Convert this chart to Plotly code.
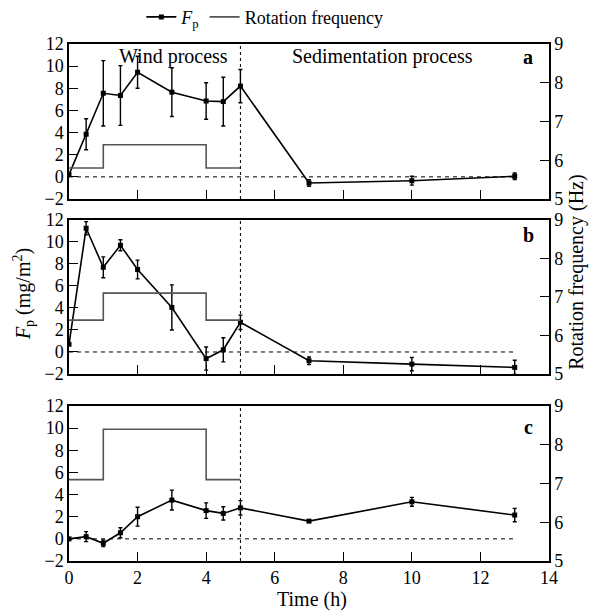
import plotly.graph_objects as go
from plotly.subplots import make_subplots

# ---------------- data ----------------
time_h = [0, 0.5, 1, 1.5, 2, 3, 4, 4.5, 5, 7, 10, 13]

fp_a = [0.2, 3.85, 7.55, 7.35, 9.45, 7.65, 6.85, 6.8, 8.2, -0.55, -0.35, 0.05]
err_a = [0, 1.4, 2.95, 2.7, 1.45, 2.2, 1.65, 2.2, 1.5, 0.3, 0.4, 0.3]

fp_b = [0.7, 11.25, 7.7, 9.7, 7.5, 4.05, -0.6, 0.2, 2.7, -0.8, -1.1, -1.4]
err_b = [0, 0.6, 0.95, 0.5, 0.85, 2.05, 1.05, 1.1, 0.65, 0.35, 0.6, 0.65]

fp_c = [0.0, 0.2, -0.4, 0.55, 2.0, 3.5, 2.55, 2.3, 2.8, 1.6, 3.35, 2.15]
err_c = [0, 0.45, 0.3, 0.45, 0.85, 0.9, 0.7, 0.6, 0.65, 0.1, 0.4, 0.6]

freq_time = [0, 1, 4, 5]
rot_a = [5.8, 6.4, 5.8, 5.8]
rot_b = [6.4, 7.1, 6.4, 6.4]
rot_c = [7.1, 8.4, 7.1, 7.1]

zero_line_x = [0, 13]
zero_line_y = [0, 0]
wind_end = 5

panel_labels = ["a", "b", "c"]
x_ticks = [0, 2, 4, 6, 8, 10, 12, 14]
y_ticks = [-2, 0, 2, 4, 6, 8, 10, 12]
y2_ticks = [5, 6, 7, 8, 9]

FONT = "Liberation Serif"
TICKFONT = dict(family=FONT, size=18, color="black")
TEXTFONT = dict(family=FONT, size=20, color="black")

fig = make_subplots(rows=3, cols=1, specs=[[{"secondary_y": True}]] * 3)

panels = [(fp_a, err_a, rot_a), (fp_b, err_b, rot_b), (fp_c, err_c, rot_c)]
for i, (fp, err, rot) in enumerate(panels):
    row = i + 1
    first = i == 0
    fig.add_trace(go.Scatter(x=freq_time, y=rot, mode="lines", line_shape="hv",
                             line=dict(color="#555555", width=1.6),
                             name="Rotation frequency", showlegend=False),
                  row=row, col=1, secondary_y=True)
    fig.add_trace(go.Scatter(x=zero_line_x, y=zero_line_y, mode="lines",
                             line=dict(color="black", width=1, dash="4px,4px"),
                             showlegend=False, hoverinfo="skip"),
                  row=row, col=1, secondary_y=False)
    fig.add_trace(go.Scatter(x=time_h, y=fp, mode="lines+markers",
                             line=dict(color="black", width=1.6),
                             marker=dict(symbol="square", size=5, color="black"),
                             error_y=dict(type="data", array=err, visible=True,
                                          color="black", thickness=1.4, width=2),
                             name="<i>F</i><sub>p</sub>", showlegend=first),
                  row=row, col=1, secondary_y=False)

fig.add_trace(go.Scatter(x=[None], y=[None], mode="lines",
                         line=dict(color="#555555", width=1.6),
                         name="Rotation frequency", showlegend=True),
              row=1, col=1, secondary_y=True)

domains = [[0.7002, 1.0], [0.3617, 0.6596], [0.0, 0.2998]]
for i in range(3):
    row = i + 1
    fig.update_xaxes(range=[0, 14], tickvals=x_ticks, ticks="inside", ticklen=9,
                     tickwidth=1.2, tickcolor="black", domain=[0, 1], automargin=False,
                     showline=True, linecolor="black", linewidth=1.5, mirror=True,
                     showgrid=False, zeroline=False, showticklabels=(row == 3),
                     tickfont=TICKFONT, row=row, col=1)
    fig.update_yaxes(range=[-2, 12], tickvals=y_ticks, ticks="inside", ticklen=9,
                     tickwidth=1.2, tickcolor="black", automargin=False,
                     showline=True, linecolor="black", linewidth=1.5,
                     showgrid=False, zeroline=False, domain=domains[i],
                     tickfont=TICKFONT, row=row, col=1, secondary_y=False)
    fig.update_yaxes(range=[5, 9], tickvals=y2_ticks, ticks="inside", ticklen=9,
                     tickwidth=1.2, tickcolor="black", automargin=False,
                     showline=True, linecolor="black", linewidth=1.5,
                     showgrid=False, zeroline=False, domain=domains[i],
                     tickfont=TICKFONT, row=row, col=1, secondary_y=True)

xrefs = ["x", "x2", "x3"]
yrefs = ["y", "y3", "y5"]
label_y = [0.918, 0.90, 0.865]
shapes = []
annotations = []
for i in range(3):
    shapes.append(dict(type="line", xref=xrefs[i], yref=yrefs[i] + " domain",
                       x0=wind_end, x1=wind_end, y0=0, y1=1,
                       line=dict(color="black", width=1, dash="dot")))
    annotations.append(dict(xref=xrefs[i], yref=yrefs[i] + " domain", x=13.4, y=label_y[i],
                            xanchor="center", yanchor="middle",
                            text="<b>" + panel_labels[i] + "</b>", showarrow=False,
                            font=TEXTFONT))

annotations += [
    dict(xref="x", yref="y domain", x=3.05, y=0.918, text="Wind process", showarrow=False,
         xanchor="center", yanchor="middle", font=TEXTFONT),
    dict(xref="x", yref="y domain", x=9.15, y=0.918, text="Sedimentation process",
         xanchor="center", yanchor="middle", showarrow=False, font=TEXTFONT),
    dict(xref="paper", yref="paper", x=-0.094, y=0.516, textangle=-90,
         xanchor="center", yanchor="middle",
         text="<i>F</i><sub>p</sub> (mg/m<sup>2</sup>)", showarrow=False, font=TEXTFONT),
    dict(xref="paper", yref="paper", x=1.058, y=0.559, textangle=-90,
         xanchor="center", yanchor="middle",
         text="Rotation frequency (Hz)", showarrow=False, font=TEXTFONT),
    dict(xref="paper", yref="paper", x=0.506, y=-0.075, text="Time (h)", showarrow=False,
         xanchor="center", yanchor="middle", font=TEXTFONT),
]

fig.update_layout(
    width=598, height=612,
    margin=dict(l=61, r=57, t=36, b=59, autoexpand=False),
    plot_bgcolor="white", paper_bgcolor="white",
    font=dict(family=FONT, size=18, color="black"),
    shapes=shapes, annotations=annotations,
    legend=dict(orientation="h", x=0.408, xanchor="center",
                yref="container", y=0.985, yanchor="middle",
                font=dict(family=FONT, size=18, color="black"),
                bgcolor="rgba(0,0,0,0)", itemwidth=30, tracegroupgap=0),
)

fig.write_html("out.html")
